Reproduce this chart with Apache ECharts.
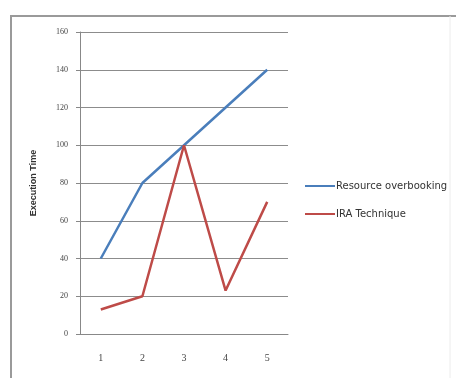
<!DOCTYPE html>
<html><head><meta charset="utf-8">
<script src="https://cdn.jsdelivr.net/npm/echarts@6/dist/echarts.min.js"></script>
<style>html,body{margin:0;padding:0;background:#fff}#c{width:456px;height:378px}</style>
</head><body><div id="c"></div>
<script>
var categories = ['1','2','3','4','5'];
var resourceOverbooking = [40, 80, 100, 120, 140];
var iraTechnique = [13, 20, 100, 23, 70];
var yTicks = {min: 0, max: 160, interval: 20};

var chart = echarts.init(document.getElementById('c'));
chart.setOption({
  animation: false,
  backgroundColor: '#fff',
  graphic: [
    {type:'line', shape:{x1:10,y1:16,x2:456,y2:16}, style:{stroke:'#9a9a9a', lineWidth:2}},
    {type:'line', shape:{x1:11,y1:16,x2:11,y2:378}, style:{stroke:'#9a9a9a', lineWidth:2}},
    {type:'line', shape:{x1:450,y1:16,x2:450,y2:378}, style:{stroke:'#ececec', lineWidth:1}}
  ],
  grid: {left: 80, top: 32, width: 208, height: 302, containLabel: false},
  legend: {
    orient: 'vertical', left: 300, top: 176, itemGap: 18,
    itemWidth: 30, itemHeight: 8, icon: 'path://M0,4L30,4L30,6L0,6Z',
    textStyle: {fontFamily: 'DejaVu Sans', fontSize: 10, color: '#333', padding:[0,0,0,-4]},
    data: [
      {name:'Resource overbooking', itemStyle:{color:'#4a7ebb'}},
      {name:'IRA Technique', itemStyle:{color:'#be4b48'}}
    ]
  },
  xAxis: {
    type: 'category', data: categories, boundaryGap: true,
    axisLine: {lineStyle: {color: '#888', width: 1}},
    axisTick: {show: false},
    axisLabel: {fontFamily: 'Liberation Serif', fontSize: 10, color: '#444', margin: 19}
  },
  yAxis: {
    type: 'value', min: yTicks.min, max: yTicks.max, interval: yTicks.interval,
    name: 'Execution Time', nameLocation: 'middle', nameGap: 42, nameRotate: 90,
    nameTextStyle: {fontFamily: 'Liberation Sans', fontSize: 9, fontWeight: 'bold', color: '#333'},
    axisLine: {show: true, lineStyle: {color: '#888'}},
    axisTick: {show: true, length: 4, lineStyle: {color: '#888'}},
    splitLine: {lineStyle: {color: '#8c8c8c', width: 1}},
    axisLabel: {fontFamily: 'Liberation Serif', fontSize: 8, color: '#444', margin: 12}
  },
  series: [
    {name:'Resource overbooking', type:'line', data: resourceOverbooking, symbol:'none',
     lineStyle:{color:'#4a7ebb', width:2.5}, itemStyle:{color:'#4a7ebb'}},
    {name:'IRA Technique', type:'line', data: iraTechnique, symbol:'none',
     lineStyle:{color:'#be4b48', width:2.5}, itemStyle:{color:'#be4b48'}}
  ]
});
</script></body></html>
